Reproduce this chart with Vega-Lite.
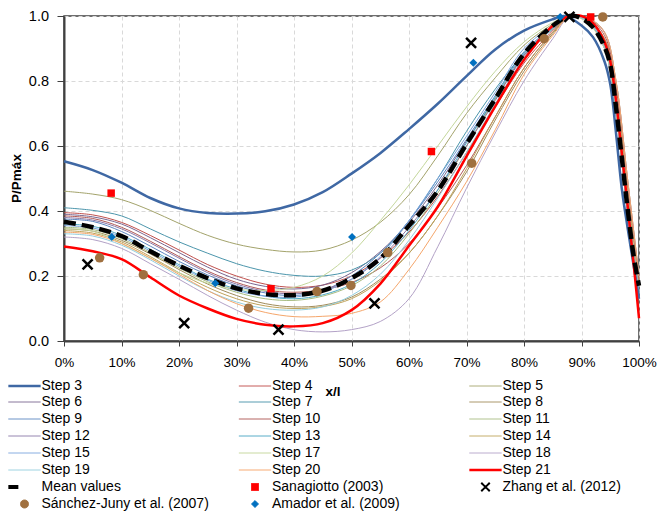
{
  "$schema": "https://vega.github.io/schema/vega-lite/v6.json",
  "autosize": "none",
  "width": 575,
  "height": 325,
  "padding": {"left": 64, "top": 16, "right": 18, "bottom": 177},
  "background": "white",
  "config": {
    "font": "Liberation Sans, Arial, sans-serif",
    "view": {"stroke": "#404040", "strokeWidth": 1.5},
    "axis": {
      "gridColor": "#D9D9D9",
      "gridDash": [4, 3],
      "gridWidth": 1,
      "domainColor": "#404040",
      "domainWidth": 2,
      "tickColor": "#404040",
      "tickWidth": 1,
      "labelColor": "#000000",
      "labelFontSize": 14,
      "titleColor": "#000000",
      "titleFontSize": 13.5,
      "titleFontWeight": "bold"
    }
  },
  "data": {
    "values": [
      {"s": "Step 3", "x": 0, "y": 0.553}, {"s": "Step 3", "x": 5, "y": 0.526}, {"s": "Step 3", "x": 10, "y": 0.487}, {"s": "Step 3", "x": 15, "y": 0.44}, {"s": "Step 3", "x": 20, "y": 0.408}, {"s": "Step 3", "x": 25, "y": 0.394}, {"s": "Step 3", "x": 30, "y": 0.392}, {"s": "Step 3", "x": 35, "y": 0.399}, {"s": "Step 3", "x": 40, "y": 0.42}, {"s": "Step 3", "x": 45, "y": 0.458}, {"s": "Step 3", "x": 50, "y": 0.515}, {"s": "Step 3", "x": 55, "y": 0.578}, {"s": "Step 3", "x": 60, "y": 0.652}, {"s": "Step 3", "x": 65, "y": 0.73}, {"s": "Step 3", "x": 70, "y": 0.815}, {"s": "Step 3", "x": 75, "y": 0.897}, {"s": "Step 3", "x": 80, "y": 0.955}, {"s": "Step 3", "x": 85, "y": 0.99}, {"s": "Step 3", "x": 87, "y": 1.0}, {"s": "Step 3", "x": 90, "y": 0.971}, {"s": "Step 3", "x": 92, "y": 0.935}, {"s": "Step 3", "x": 94, "y": 0.86}, {"s": "Step 3", "x": 95, "y": 0.79}, {"s": "Step 3", "x": 96, "y": 0.64}, {"s": "Step 3", "x": 97, "y": 0.47}, {"s": "Step 3", "x": 98, "y": 0.35}, {"s": "Step 3", "x": 99, "y": 0.24}, {"s": "Step 3", "x": 100, "y": 0.13},

      {"s": "Step 4", "x": 0, "y": 0.395}, {"s": "Step 4", "x": 5, "y": 0.388}, {"s": "Step 4", "x": 10, "y": 0.365}, {"s": "Step 4", "x": 15, "y": 0.325}, {"s": "Step 4", "x": 20, "y": 0.28}, {"s": "Step 4", "x": 25, "y": 0.235}, {"s": "Step 4", "x": 30, "y": 0.2}, {"s": "Step 4", "x": 35, "y": 0.175}, {"s": "Step 4", "x": 40, "y": 0.165}, {"s": "Step 4", "x": 45, "y": 0.172}, {"s": "Step 4", "x": 50, "y": 0.2}, {"s": "Step 4", "x": 55, "y": 0.255}, {"s": "Step 4", "x": 60, "y": 0.335}, {"s": "Step 4", "x": 65, "y": 0.445}, {"s": "Step 4", "x": 70, "y": 0.58}, {"s": "Step 4", "x": 75, "y": 0.72}, {"s": "Step 4", "x": 80, "y": 0.855}, {"s": "Step 4", "x": 85, "y": 0.955}, {"s": "Step 4", "x": 88, "y": 1.0}, {"s": "Step 4", "x": 91, "y": 0.99}, {"s": "Step 4", "x": 94, "y": 0.93}, {"s": "Step 4", "x": 96, "y": 0.78}, {"s": "Step 4", "x": 98, "y": 0.48}, {"s": "Step 4", "x": 100, "y": 0.19},

      {"s": "Step 5", "x": 0, "y": 0.461}, {"s": "Step 5", "x": 5, "y": 0.452}, {"s": "Step 5", "x": 10, "y": 0.435}, {"s": "Step 5", "x": 15, "y": 0.402}, {"s": "Step 5", "x": 20, "y": 0.362}, {"s": "Step 5", "x": 25, "y": 0.325}, {"s": "Step 5", "x": 30, "y": 0.298}, {"s": "Step 5", "x": 35, "y": 0.282}, {"s": "Step 5", "x": 40, "y": 0.274}, {"s": "Step 5", "x": 45, "y": 0.28}, {"s": "Step 5", "x": 50, "y": 0.31}, {"s": "Step 5", "x": 55, "y": 0.365}, {"s": "Step 5", "x": 60, "y": 0.45}, {"s": "Step 5", "x": 65, "y": 0.57}, {"s": "Step 5", "x": 70, "y": 0.7}, {"s": "Step 5", "x": 75, "y": 0.81}, {"s": "Step 5", "x": 80, "y": 0.91}, {"s": "Step 5", "x": 85, "y": 0.975}, {"s": "Step 5", "x": 88, "y": 1.0}, {"s": "Step 5", "x": 91, "y": 0.985}, {"s": "Step 5", "x": 94, "y": 0.91}, {"s": "Step 5", "x": 96, "y": 0.72}, {"s": "Step 5", "x": 98, "y": 0.42}, {"s": "Step 5", "x": 100, "y": 0.15},

      {"s": "Step 6", "x": 0, "y": 0.39}, {"s": "Step 6", "x": 5, "y": 0.382}, {"s": "Step 6", "x": 10, "y": 0.36}, {"s": "Step 6", "x": 15, "y": 0.318}, {"s": "Step 6", "x": 20, "y": 0.272}, {"s": "Step 6", "x": 25, "y": 0.227}, {"s": "Step 6", "x": 30, "y": 0.19}, {"s": "Step 6", "x": 35, "y": 0.168}, {"s": "Step 6", "x": 40, "y": 0.16}, {"s": "Step 6", "x": 45, "y": 0.172}, {"s": "Step 6", "x": 50, "y": 0.21}, {"s": "Step 6", "x": 55, "y": 0.275}, {"s": "Step 6", "x": 60, "y": 0.365}, {"s": "Step 6", "x": 65, "y": 0.48}, {"s": "Step 6", "x": 70, "y": 0.615}, {"s": "Step 6", "x": 75, "y": 0.745}, {"s": "Step 6", "x": 80, "y": 0.875}, {"s": "Step 6", "x": 85, "y": 0.96}, {"s": "Step 6", "x": 88, "y": 1.0}, {"s": "Step 6", "x": 91, "y": 0.985}, {"s": "Step 6", "x": 94, "y": 0.905}, {"s": "Step 6", "x": 96, "y": 0.7}, {"s": "Step 6", "x": 98, "y": 0.4}, {"s": "Step 6", "x": 100, "y": 0.14},

      {"s": "Step 7", "x": 0, "y": 0.41}, {"s": "Step 7", "x": 5, "y": 0.402}, {"s": "Step 7", "x": 10, "y": 0.385}, {"s": "Step 7", "x": 15, "y": 0.345}, {"s": "Step 7", "x": 20, "y": 0.305}, {"s": "Step 7", "x": 25, "y": 0.27}, {"s": "Step 7", "x": 30, "y": 0.238}, {"s": "Step 7", "x": 35, "y": 0.215}, {"s": "Step 7", "x": 40, "y": 0.202}, {"s": "Step 7", "x": 45, "y": 0.2}, {"s": "Step 7", "x": 50, "y": 0.218}, {"s": "Step 7", "x": 55, "y": 0.27}, {"s": "Step 7", "x": 60, "y": 0.37}, {"s": "Step 7", "x": 65, "y": 0.5}, {"s": "Step 7", "x": 70, "y": 0.645}, {"s": "Step 7", "x": 75, "y": 0.775}, {"s": "Step 7", "x": 80, "y": 0.885}, {"s": "Step 7", "x": 85, "y": 0.965}, {"s": "Step 7", "x": 88, "y": 1.0}, {"s": "Step 7", "x": 91, "y": 0.985}, {"s": "Step 7", "x": 94, "y": 0.91}, {"s": "Step 7", "x": 96, "y": 0.72}, {"s": "Step 7", "x": 98, "y": 0.42}, {"s": "Step 7", "x": 100, "y": 0.15},

      {"s": "Step 8", "x": 0, "y": 0.345}, {"s": "Step 8", "x": 5, "y": 0.338}, {"s": "Step 8", "x": 10, "y": 0.31}, {"s": "Step 8", "x": 15, "y": 0.268}, {"s": "Step 8", "x": 20, "y": 0.22}, {"s": "Step 8", "x": 25, "y": 0.175}, {"s": "Step 8", "x": 30, "y": 0.14}, {"s": "Step 8", "x": 35, "y": 0.115}, {"s": "Step 8", "x": 40, "y": 0.105}, {"s": "Step 8", "x": 45, "y": 0.11}, {"s": "Step 8", "x": 50, "y": 0.135}, {"s": "Step 8", "x": 55, "y": 0.19}, {"s": "Step 8", "x": 60, "y": 0.27}, {"s": "Step 8", "x": 65, "y": 0.385}, {"s": "Step 8", "x": 70, "y": 0.52}, {"s": "Step 8", "x": 75, "y": 0.68}, {"s": "Step 8", "x": 80, "y": 0.83}, {"s": "Step 8", "x": 85, "y": 0.945}, {"s": "Step 8", "x": 88, "y": 1.0}, {"s": "Step 8", "x": 91, "y": 0.995}, {"s": "Step 8", "x": 94, "y": 0.95}, {"s": "Step 8", "x": 96, "y": 0.8}, {"s": "Step 8", "x": 98, "y": 0.5}, {"s": "Step 8", "x": 100, "y": 0.2},

      {"s": "Step 9", "x": 0, "y": 0.375}, {"s": "Step 9", "x": 5, "y": 0.368}, {"s": "Step 9", "x": 10, "y": 0.337}, {"s": "Step 9", "x": 15, "y": 0.292}, {"s": "Step 9", "x": 20, "y": 0.245}, {"s": "Step 9", "x": 25, "y": 0.203}, {"s": "Step 9", "x": 30, "y": 0.17}, {"s": "Step 9", "x": 35, "y": 0.148}, {"s": "Step 9", "x": 40, "y": 0.14}, {"s": "Step 9", "x": 45, "y": 0.155}, {"s": "Step 9", "x": 50, "y": 0.2}, {"s": "Step 9", "x": 55, "y": 0.27}, {"s": "Step 9", "x": 60, "y": 0.37}, {"s": "Step 9", "x": 65, "y": 0.49}, {"s": "Step 9", "x": 70, "y": 0.62}, {"s": "Step 9", "x": 75, "y": 0.755}, {"s": "Step 9", "x": 80, "y": 0.89}, {"s": "Step 9", "x": 85, "y": 0.965}, {"s": "Step 9", "x": 88, "y": 1.0}, {"s": "Step 9", "x": 91, "y": 0.985}, {"s": "Step 9", "x": 94, "y": 0.9}, {"s": "Step 9", "x": 96, "y": 0.7}, {"s": "Step 9", "x": 98, "y": 0.4}, {"s": "Step 9", "x": 100, "y": 0.13},

      {"s": "Step 10", "x": 0, "y": 0.385}, {"s": "Step 10", "x": 5, "y": 0.377}, {"s": "Step 10", "x": 10, "y": 0.35}, {"s": "Step 10", "x": 15, "y": 0.307}, {"s": "Step 10", "x": 20, "y": 0.26}, {"s": "Step 10", "x": 25, "y": 0.215}, {"s": "Step 10", "x": 30, "y": 0.18}, {"s": "Step 10", "x": 35, "y": 0.157}, {"s": "Step 10", "x": 40, "y": 0.15}, {"s": "Step 10", "x": 45, "y": 0.158}, {"s": "Step 10", "x": 50, "y": 0.18}, {"s": "Step 10", "x": 55, "y": 0.225}, {"s": "Step 10", "x": 60, "y": 0.3}, {"s": "Step 10", "x": 65, "y": 0.41}, {"s": "Step 10", "x": 70, "y": 0.54}, {"s": "Step 10", "x": 75, "y": 0.69}, {"s": "Step 10", "x": 80, "y": 0.84}, {"s": "Step 10", "x": 85, "y": 0.95}, {"s": "Step 10", "x": 88, "y": 1.0}, {"s": "Step 10", "x": 91, "y": 0.995}, {"s": "Step 10", "x": 94, "y": 0.94}, {"s": "Step 10", "x": 96, "y": 0.79}, {"s": "Step 10", "x": 98, "y": 0.49}, {"s": "Step 10", "x": 100, "y": 0.19},

      {"s": "Step 11", "x": 0, "y": 0.35}, {"s": "Step 11", "x": 5, "y": 0.343}, {"s": "Step 11", "x": 10, "y": 0.315}, {"s": "Step 11", "x": 15, "y": 0.272}, {"s": "Step 11", "x": 20, "y": 0.225}, {"s": "Step 11", "x": 25, "y": 0.182}, {"s": "Step 11", "x": 30, "y": 0.15}, {"s": "Step 11", "x": 35, "y": 0.13}, {"s": "Step 11", "x": 40, "y": 0.125}, {"s": "Step 11", "x": 45, "y": 0.138}, {"s": "Step 11", "x": 50, "y": 0.17}, {"s": "Step 11", "x": 55, "y": 0.23}, {"s": "Step 11", "x": 60, "y": 0.33}, {"s": "Step 11", "x": 65, "y": 0.455}, {"s": "Step 11", "x": 70, "y": 0.6}, {"s": "Step 11", "x": 75, "y": 0.745}, {"s": "Step 11", "x": 80, "y": 0.88}, {"s": "Step 11", "x": 85, "y": 0.96}, {"s": "Step 11", "x": 88, "y": 1.0}, {"s": "Step 11", "x": 91, "y": 0.985}, {"s": "Step 11", "x": 94, "y": 0.91}, {"s": "Step 11", "x": 96, "y": 0.72}, {"s": "Step 11", "x": 98, "y": 0.42}, {"s": "Step 11", "x": 100, "y": 0.15},

      {"s": "Step 12", "x": 0, "y": 0.38}, {"s": "Step 12", "x": 5, "y": 0.372}, {"s": "Step 12", "x": 10, "y": 0.345}, {"s": "Step 12", "x": 15, "y": 0.302}, {"s": "Step 12", "x": 20, "y": 0.255}, {"s": "Step 12", "x": 25, "y": 0.21}, {"s": "Step 12", "x": 30, "y": 0.175}, {"s": "Step 12", "x": 35, "y": 0.153}, {"s": "Step 12", "x": 40, "y": 0.145}, {"s": "Step 12", "x": 45, "y": 0.158}, {"s": "Step 12", "x": 50, "y": 0.19}, {"s": "Step 12", "x": 55, "y": 0.255}, {"s": "Step 12", "x": 60, "y": 0.35}, {"s": "Step 12", "x": 65, "y": 0.465}, {"s": "Step 12", "x": 70, "y": 0.6}, {"s": "Step 12", "x": 75, "y": 0.74}, {"s": "Step 12", "x": 80, "y": 0.88}, {"s": "Step 12", "x": 85, "y": 0.96}, {"s": "Step 12", "x": 88, "y": 1.0}, {"s": "Step 12", "x": 91, "y": 0.985}, {"s": "Step 12", "x": 94, "y": 0.91}, {"s": "Step 12", "x": 96, "y": 0.72}, {"s": "Step 12", "x": 98, "y": 0.42}, {"s": "Step 12", "x": 100, "y": 0.15},

      {"s": "Step 13", "x": 0, "y": 0.36}, {"s": "Step 13", "x": 5, "y": 0.353}, {"s": "Step 13", "x": 10, "y": 0.325}, {"s": "Step 13", "x": 15, "y": 0.282}, {"s": "Step 13", "x": 20, "y": 0.235}, {"s": "Step 13", "x": 25, "y": 0.19}, {"s": "Step 13", "x": 30, "y": 0.16}, {"s": "Step 13", "x": 35, "y": 0.138}, {"s": "Step 13", "x": 40, "y": 0.13}, {"s": "Step 13", "x": 45, "y": 0.142}, {"s": "Step 13", "x": 50, "y": 0.175}, {"s": "Step 13", "x": 55, "y": 0.24}, {"s": "Step 13", "x": 60, "y": 0.34}, {"s": "Step 13", "x": 65, "y": 0.465}, {"s": "Step 13", "x": 70, "y": 0.61}, {"s": "Step 13", "x": 75, "y": 0.75}, {"s": "Step 13", "x": 80, "y": 0.885}, {"s": "Step 13", "x": 85, "y": 0.962}, {"s": "Step 13", "x": 88, "y": 1.0}, {"s": "Step 13", "x": 91, "y": 0.985}, {"s": "Step 13", "x": 94, "y": 0.91}, {"s": "Step 13", "x": 96, "y": 0.72}, {"s": "Step 13", "x": 98, "y": 0.42}, {"s": "Step 13", "x": 100, "y": 0.15},

      {"s": "Step 14", "x": 0, "y": 0.34}, {"s": "Step 14", "x": 5, "y": 0.332}, {"s": "Step 14", "x": 10, "y": 0.305}, {"s": "Step 14", "x": 15, "y": 0.26}, {"s": "Step 14", "x": 20, "y": 0.21}, {"s": "Step 14", "x": 25, "y": 0.165}, {"s": "Step 14", "x": 30, "y": 0.13}, {"s": "Step 14", "x": 35, "y": 0.108}, {"s": "Step 14", "x": 40, "y": 0.1}, {"s": "Step 14", "x": 45, "y": 0.106}, {"s": "Step 14", "x": 50, "y": 0.13}, {"s": "Step 14", "x": 55, "y": 0.185}, {"s": "Step 14", "x": 60, "y": 0.27}, {"s": "Step 14", "x": 65, "y": 0.385}, {"s": "Step 14", "x": 70, "y": 0.53}, {"s": "Step 14", "x": 75, "y": 0.69}, {"s": "Step 14", "x": 80, "y": 0.84}, {"s": "Step 14", "x": 85, "y": 0.95}, {"s": "Step 14", "x": 88, "y": 1.0}, {"s": "Step 14", "x": 91, "y": 0.99}, {"s": "Step 14", "x": 94, "y": 0.93}, {"s": "Step 14", "x": 96, "y": 0.76}, {"s": "Step 14", "x": 98, "y": 0.46}, {"s": "Step 14", "x": 100, "y": 0.17},

      {"s": "Step 15", "x": 0, "y": 0.355}, {"s": "Step 15", "x": 5, "y": 0.348}, {"s": "Step 15", "x": 10, "y": 0.32}, {"s": "Step 15", "x": 15, "y": 0.277}, {"s": "Step 15", "x": 20, "y": 0.23}, {"s": "Step 15", "x": 25, "y": 0.187}, {"s": "Step 15", "x": 30, "y": 0.155}, {"s": "Step 15", "x": 35, "y": 0.138}, {"s": "Step 15", "x": 40, "y": 0.135}, {"s": "Step 15", "x": 45, "y": 0.152}, {"s": "Step 15", "x": 50, "y": 0.19}, {"s": "Step 15", "x": 55, "y": 0.26}, {"s": "Step 15", "x": 60, "y": 0.37}, {"s": "Step 15", "x": 65, "y": 0.5}, {"s": "Step 15", "x": 70, "y": 0.63}, {"s": "Step 15", "x": 75, "y": 0.765}, {"s": "Step 15", "x": 80, "y": 0.9}, {"s": "Step 15", "x": 85, "y": 0.97}, {"s": "Step 15", "x": 88, "y": 1.0}, {"s": "Step 15", "x": 91, "y": 0.985}, {"s": "Step 15", "x": 94, "y": 0.9}, {"s": "Step 15", "x": 96, "y": 0.7}, {"s": "Step 15", "x": 98, "y": 0.4}, {"s": "Step 15", "x": 100, "y": 0.13},

      {"s": "Step 17", "x": 0, "y": 0.345}, {"s": "Step 17", "x": 5, "y": 0.338}, {"s": "Step 17", "x": 10, "y": 0.3}, {"s": "Step 17", "x": 15, "y": 0.255}, {"s": "Step 17", "x": 20, "y": 0.21}, {"s": "Step 17", "x": 25, "y": 0.178}, {"s": "Step 17", "x": 30, "y": 0.16}, {"s": "Step 17", "x": 35, "y": 0.155}, {"s": "Step 17", "x": 40, "y": 0.165}, {"s": "Step 17", "x": 45, "y": 0.2}, {"s": "Step 17", "x": 50, "y": 0.27}, {"s": "Step 17", "x": 55, "y": 0.37}, {"s": "Step 17", "x": 60, "y": 0.48}, {"s": "Step 17", "x": 65, "y": 0.6}, {"s": "Step 17", "x": 70, "y": 0.72}, {"s": "Step 17", "x": 75, "y": 0.83}, {"s": "Step 17", "x": 80, "y": 0.92}, {"s": "Step 17", "x": 85, "y": 0.98}, {"s": "Step 17", "x": 88, "y": 1.0}, {"s": "Step 17", "x": 91, "y": 0.98}, {"s": "Step 17", "x": 94, "y": 0.9}, {"s": "Step 17", "x": 96, "y": 0.7}, {"s": "Step 17", "x": 98, "y": 0.4}, {"s": "Step 17", "x": 100, "y": 0.13},

      {"s": "Step 18", "x": 0, "y": 0.32}, {"s": "Step 18", "x": 5, "y": 0.312}, {"s": "Step 18", "x": 10, "y": 0.285}, {"s": "Step 18", "x": 15, "y": 0.238}, {"s": "Step 18", "x": 20, "y": 0.19}, {"s": "Step 18", "x": 25, "y": 0.14}, {"s": "Step 18", "x": 30, "y": 0.095}, {"s": "Step 18", "x": 35, "y": 0.058}, {"s": "Step 18", "x": 40, "y": 0.035}, {"s": "Step 18", "x": 45, "y": 0.028}, {"s": "Step 18", "x": 50, "y": 0.035}, {"s": "Step 18", "x": 55, "y": 0.06}, {"s": "Step 18", "x": 60, "y": 0.13}, {"s": "Step 18", "x": 65, "y": 0.29}, {"s": "Step 18", "x": 70, "y": 0.47}, {"s": "Step 18", "x": 75, "y": 0.64}, {"s": "Step 18", "x": 80, "y": 0.8}, {"s": "Step 18", "x": 85, "y": 0.93}, {"s": "Step 18", "x": 88, "y": 1.0}, {"s": "Step 18", "x": 91, "y": 0.995}, {"s": "Step 18", "x": 94, "y": 0.95}, {"s": "Step 18", "x": 96, "y": 0.8}, {"s": "Step 18", "x": 98, "y": 0.5}, {"s": "Step 18", "x": 100, "y": 0.2},

      {"s": "Step 19", "x": 0, "y": 0.33}, {"s": "Step 19", "x": 5, "y": 0.323}, {"s": "Step 19", "x": 10, "y": 0.295}, {"s": "Step 19", "x": 15, "y": 0.25}, {"s": "Step 19", "x": 20, "y": 0.2}, {"s": "Step 19", "x": 25, "y": 0.155}, {"s": "Step 19", "x": 30, "y": 0.12}, {"s": "Step 19", "x": 35, "y": 0.1}, {"s": "Step 19", "x": 40, "y": 0.095}, {"s": "Step 19", "x": 45, "y": 0.105}, {"s": "Step 19", "x": 50, "y": 0.14}, {"s": "Step 19", "x": 55, "y": 0.205}, {"s": "Step 19", "x": 60, "y": 0.31}, {"s": "Step 19", "x": 65, "y": 0.44}, {"s": "Step 19", "x": 70, "y": 0.58}, {"s": "Step 19", "x": 75, "y": 0.73}, {"s": "Step 19", "x": 80, "y": 0.87}, {"s": "Step 19", "x": 85, "y": 0.96}, {"s": "Step 19", "x": 88, "y": 1.0}, {"s": "Step 19", "x": 91, "y": 0.985}, {"s": "Step 19", "x": 94, "y": 0.91}, {"s": "Step 19", "x": 96, "y": 0.72}, {"s": "Step 19", "x": 98, "y": 0.42}, {"s": "Step 19", "x": 100, "y": 0.15},

      {"s": "Step 20", "x": 0, "y": 0.335}, {"s": "Step 20", "x": 5, "y": 0.328}, {"s": "Step 20", "x": 10, "y": 0.3}, {"s": "Step 20", "x": 15, "y": 0.255}, {"s": "Step 20", "x": 20, "y": 0.205}, {"s": "Step 20", "x": 25, "y": 0.155}, {"s": "Step 20", "x": 30, "y": 0.115}, {"s": "Step 20", "x": 35, "y": 0.088}, {"s": "Step 20", "x": 40, "y": 0.075}, {"s": "Step 20", "x": 45, "y": 0.076}, {"s": "Step 20", "x": 50, "y": 0.085}, {"s": "Step 20", "x": 55, "y": 0.12}, {"s": "Step 20", "x": 60, "y": 0.22}, {"s": "Step 20", "x": 65, "y": 0.35}, {"s": "Step 20", "x": 70, "y": 0.49}, {"s": "Step 20", "x": 75, "y": 0.65}, {"s": "Step 20", "x": 80, "y": 0.82}, {"s": "Step 20", "x": 85, "y": 0.94}, {"s": "Step 20", "x": 88, "y": 1.0}, {"s": "Step 20", "x": 91, "y": 0.995}, {"s": "Step 20", "x": 94, "y": 0.95}, {"s": "Step 20", "x": 96, "y": 0.8}, {"s": "Step 20", "x": 98, "y": 0.5}, {"s": "Step 20", "x": 100, "y": 0.2},

      {"s": "Step 21", "x": 0, "y": 0.291}, {"s": "Step 21", "x": 5, "y": 0.276}, {"s": "Step 21", "x": 10, "y": 0.252}, {"s": "Step 21", "x": 15, "y": 0.196}, {"s": "Step 21", "x": 20, "y": 0.14}, {"s": "Step 21", "x": 25, "y": 0.1}, {"s": "Step 21", "x": 30, "y": 0.068}, {"s": "Step 21", "x": 35, "y": 0.05}, {"s": "Step 21", "x": 40, "y": 0.045}, {"s": "Step 21", "x": 45, "y": 0.055}, {"s": "Step 21", "x": 50, "y": 0.095}, {"s": "Step 21", "x": 55, "y": 0.176}, {"s": "Step 21", "x": 60, "y": 0.293}, {"s": "Step 21", "x": 65, "y": 0.413}, {"s": "Step 21", "x": 70, "y": 0.568}, {"s": "Step 21", "x": 75, "y": 0.722}, {"s": "Step 21", "x": 80, "y": 0.865}, {"s": "Step 21", "x": 85, "y": 0.97}, {"s": "Step 21", "x": 88, "y": 1.0}, {"s": "Step 21", "x": 90, "y": 1.0}, {"s": "Step 21", "x": 92, "y": 0.978}, {"s": "Step 21", "x": 94, "y": 0.92}, {"s": "Step 21", "x": 95, "y": 0.86}, {"s": "Step 21", "x": 96, "y": 0.74}, {"s": "Step 21", "x": 97, "y": 0.58}, {"s": "Step 21", "x": 98, "y": 0.42}, {"s": "Step 21", "x": 99, "y": 0.25}, {"s": "Step 21", "x": 100, "y": 0.07},

      {"s": "Mean values", "x": 0, "y": 0.367}, {"s": "Mean values", "x": 5, "y": 0.35}, {"s": "Mean values", "x": 10, "y": 0.323}, {"s": "Mean values", "x": 15, "y": 0.276}, {"s": "Mean values", "x": 20, "y": 0.232}, {"s": "Mean values", "x": 25, "y": 0.193}, {"s": "Mean values", "x": 30, "y": 0.162}, {"s": "Mean values", "x": 35, "y": 0.145}, {"s": "Mean values", "x": 40, "y": 0.141}, {"s": "Mean values", "x": 45, "y": 0.155}, {"s": "Mean values", "x": 50, "y": 0.193}, {"s": "Mean values", "x": 55, "y": 0.254}, {"s": "Mean values", "x": 60, "y": 0.355}, {"s": "Mean values", "x": 65, "y": 0.462}, {"s": "Mean values", "x": 70, "y": 0.606}, {"s": "Mean values", "x": 75, "y": 0.745}, {"s": "Mean values", "x": 80, "y": 0.884}, {"s": "Mean values", "x": 85, "y": 0.97}, {"s": "Mean values", "x": 88, "y": 1.0}, {"s": "Mean values", "x": 90, "y": 0.993}, {"s": "Mean values", "x": 92, "y": 0.965}, {"s": "Mean values", "x": 94, "y": 0.905}, {"s": "Mean values", "x": 95, "y": 0.85}, {"s": "Mean values", "x": 96, "y": 0.72}, {"s": "Mean values", "x": 97, "y": 0.565}, {"s": "Mean values", "x": 98, "y": 0.41}, {"s": "Mean values", "x": 99, "y": 0.27}, {"s": "Mean values", "x": 100, "y": 0.17},

      {"s": "Sanagiotto (2003)", "x": 8.2, "y": 0.455}, {"s": "Sanagiotto (2003)", "x": 36, "y": 0.161}, {"s": "Sanagiotto (2003)", "x": 63.9, "y": 0.583}, {"s": "Sanagiotto (2003)", "x": 91.6, "y": 0.997},

      {"s": "Zhang et al. (2012)", "x": 4.1, "y": 0.236}, {"s": "Zhang et al. (2012)", "x": 20.9, "y": 0.055}, {"s": "Zhang et al. (2012)", "x": 37.3, "y": 0.035}, {"s": "Zhang et al. (2012)", "x": 54, "y": 0.116}, {"s": "Zhang et al. (2012)", "x": 70.8, "y": 0.917}, {"s": "Zhang et al. (2012)", "x": 87.9, "y": 0.997},

      {"s": "Sánchez-Juny et al. (2007)", "x": 6.2, "y": 0.256}, {"s": "Sánchez-Juny et al. (2007)", "x": 13.8, "y": 0.204}, {"s": "Sánchez-Juny et al. (2007)", "x": 32.1, "y": 0.101}, {"s": "Sánchez-Juny et al. (2007)", "x": 44, "y": 0.152}, {"s": "Sánchez-Juny et al. (2007)", "x": 49.9, "y": 0.171}, {"s": "Sánchez-Juny et al. (2007)", "x": 56.3, "y": 0.272}, {"s": "Sánchez-Juny et al. (2007)", "x": 70.9, "y": 0.547}, {"s": "Sánchez-Juny et al. (2007)", "x": 83.5, "y": 0.93}, {"s": "Sánchez-Juny et al. (2007)", "x": 93.7, "y": 0.997},

      {"s": "Amador et al. (2009)", "x": 8.3, "y": 0.32}, {"s": "Amador et al. (2009)", "x": 26.3, "y": 0.178}, {"s": "Amador et al. (2009)", "x": 50.1, "y": 0.32}, {"s": "Amador et al. (2009)", "x": 71.2, "y": 0.856}, {"s": "Amador et al. (2009)", "x": 86.3, "y": 0.997}
    ]
  },
  "encoding": {
    "x": {
      "field": "x",
      "type": "quantitative",
      "scale": {"domain": [0, 100], "nice": false, "zero": false},
      "axis": {
        "title": "x/l",
        "values": [0, 10, 20, 30, 40, 50, 60, 70, 80, 90, 100],
        "labelExpr": "datum.value + '%'",
        "labelFlush": false,
        "labelFontSize": 13.5,
        "tickSize": 5,
        "labelPadding": 9,
        "titleX": 268.5,
        "titleY": 50,
        "titleAlign": "center",
        "titleBaseline": "middle"
      }
    },
    "y": {
      "field": "y",
      "type": "quantitative",
      "scale": {"domain": [0, 1], "nice": false},
      "axis": {
        "title": "P/Pmáx",
        "values": [0, 0.2, 0.4, 0.6, 0.8, 1.0],
        "format": ".1f",
        "labelFontSize": 14.5,
        "tickSize": 7,
        "labelPadding": 8.5,
        "titleX": -48,
        "titleY": 162,
        "titleAlign": "center",
        "titleBaseline": "middle",
        "titleAngle": -90
      }
    },
    "color": {
      "field": "s",
      "type": "nominal",
      "scale": {
        "domain": ["Step 3", "Step 4", "Step 5", "Step 6", "Step 7", "Step 8", "Step 9", "Step 10", "Step 11", "Step 12", "Step 13", "Step 14", "Step 15", "Step 17", "Step 18", "Step 19", "Step 20", "Step 21", "Mean values", "Sanagiotto (2003)", "Zhang et al. (2012)", "Sánchez-Juny et al. (2007)", "Amador et al. (2009)"],
        "range": ["#3F68A4", "#C0504D", "#A3A36B", "#7A6690", "#4C96AC", "#A08C5A", "#5B86C0", "#B05A57", "#A7BC80", "#8A78A6", "#4FA9C4", "#BFA35A", "#7AA3DC", "#C4D79B", "#B3A2C7", "#93CDDD", "#F5A66B", "#FF0000", "#000000", "#FF0000", "#000000", "#A0703F", "#0070C0"]
      },
      "legend": {
        "title": null,
        "orient": "none",
        "legendX": -46.5,
        "legendY": 362,
        "direction": "horizontal",
        "columns": 3,
        "gridAlign": "all",
        "columnPadding": 23.5,
        "rowPadding": -1,
        "padding": 0,
        "symbolSize": 289,
        "symbolType": "stroke",
        "symbolOffset": 0,
        "labelOffset": 10,
        "labelFontSize": 14,
        "labelColor": "#000000",
        "labelLimit": 300,
        "encode": {
          "symbols": {
            "update": {
              "shape": {"signal": "datum.value === 'Sanagiotto (2003)' ? 'square' : datum.value === 'Zhang et al. (2012)' ? 'M-1,-1L1,1M1,-1L-1,1' : datum.value === 'Sánchez-Juny et al. (2007)' ? 'circle' : datum.value === 'Amador et al. (2009)' ? 'diamond' : 'M-1.9,0H1.9'"},
              "size": {"signal": "datum.value === 'Sanagiotto (2003)' ? 49 : datum.value === 'Zhang et al. (2012)' ? 72 : datum.value === 'Sánchez-Juny et al. (2007)' ? 64 : datum.value === 'Amador et al. (2009)' ? 49 : 289"},
              "fill": {"signal": "indexof(['Sanagiotto (2003)', 'Sánchez-Juny et al. (2007)', 'Amador et al. (2009)'], datum.value) >= 0 ? scale('color', datum.value) : 'transparent'"},
              "stroke": {"signal": "indexof(['Sanagiotto (2003)', 'Sánchez-Juny et al. (2007)', 'Amador et al. (2009)'], datum.value) >= 0 ? 'transparent' : scale('color', datum.value)"},
              "strokeWidth": {"signal": "datum.value === 'Step 3' || datum.value === 'Step 21' ? 2.5 : datum.value === 'Mean values' ? 4 : datum.value === 'Zhang et al. (2012)' ? 2 : 1"},
              "strokeDash": {"signal": "datum.value === 'Mean values' ? [10, 40] : [1, 0]"},
              "opacity": {"value": 1}
            }
          }
        }
      }
    }
  },
  "layer": [
    {
      "transform": [{"filter": {"field": "s", "oneOf": ["Step 4", "Step 5", "Step 6", "Step 7", "Step 8", "Step 9", "Step 10", "Step 11", "Step 12", "Step 13", "Step 14", "Step 15", "Step 17", "Step 18", "Step 19", "Step 20"]}}],
      "mark": {"type": "line", "interpolate": "catmull-rom", "strokeWidth": 1}
    },
    {
      "transform": [{"filter": {"field": "s", "equal": "Step 3"}}],
      "mark": {"type": "line", "interpolate": "catmull-rom", "strokeWidth": 2.5}
    },
    {
      "transform": [{"filter": {"field": "s", "equal": "Step 21"}}],
      "mark": {"type": "line", "interpolate": "catmull-rom", "strokeWidth": 2.5}
    },
    {
      "transform": [{"filter": {"field": "s", "equal": "Mean values"}}],
      "mark": {"type": "line", "interpolate": "catmull-rom", "strokeWidth": 4.5, "strokeDash": [12, 6]}
    },
    {
      "transform": [{"filter": {"field": "s", "equal": "Sanagiotto (2003)"}}],
      "mark": {"type": "point", "shape": "square", "filled": true, "size": 56, "opacity": 1}
    },
    {
      "transform": [{"filter": {"field": "s", "equal": "Sánchez-Juny et al. (2007)"}}],
      "mark": {"type": "point", "shape": "circle", "filled": true, "size": 90, "opacity": 1}
    },
    {
      "transform": [{"filter": {"field": "s", "equal": "Amador et al. (2009)"}}],
      "mark": {"type": "point", "shape": "diamond", "filled": true, "size": 64, "opacity": 1}
    },
    {
      "transform": [{"filter": {"field": "s", "equal": "Zhang et al. (2012)"}}],
      "mark": {"type": "point", "shape": "M-1,-1L1,1M1,-1L-1,1", "filled": false, "size": 100, "strokeWidth": 2.5, "opacity": 1}
    }
  ]
}
